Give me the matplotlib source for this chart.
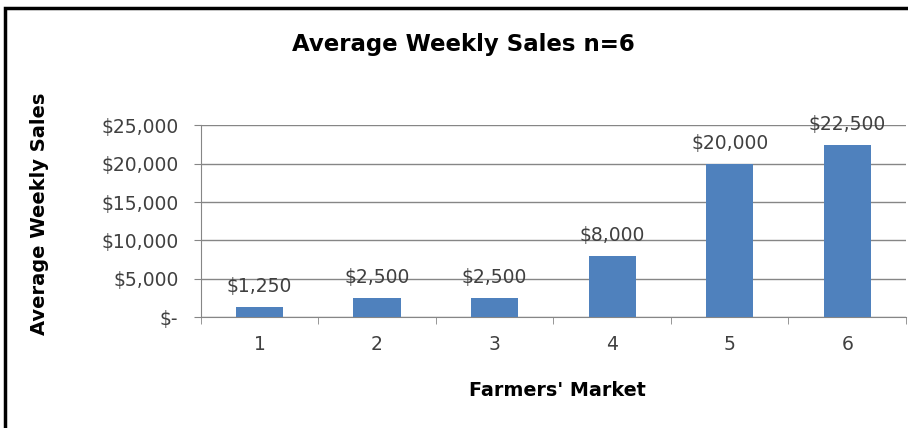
import matplotlib.pyplot as plt
from matplotlib.patches import Rectangle
import numpy as np

# data
markets = ['1', '2', '3', '4', '5', '6']
sales = [1250, 2500, 2500, 8000, 20000, 22500]
sales_labels = ['$1,250', '$2,500', '$2,500', '$8,000', '$20,000', '$22,500']
y_ticks = [0, 5000, 10000, 15000, 20000, 25000]
y_tick_labels = ['$-', '$5,000', '$10,000', '$15,000', '$20,000', '$25,000']

fig = plt.figure(figsize=(9.08, 4.28), dpi=100)
ax = fig.add_axes([0.221, 0.2593, 0.7768, 0.4475])

x = np.arange(len(markets))
bars = ax.bar(x, sales, width=0.4, color='#4F81BD', zorder=3)

for b, lab in zip(bars, sales_labels):
    ax.annotate(lab, (b.get_x() + b.get_width() / 2, b.get_height()),
                xytext=(0, 8), textcoords='offset points',
                ha='center', va='bottom', fontsize=13.5, color='#404040')

ax.set_xlim(-0.5, len(markets) - 0.5)
ax.set_ylim(0, 25000)
ax.set_yticks(y_ticks)
ax.set_yticklabels(y_tick_labels, fontsize=13.5, color='#404040')
ax.set_xticks(x)
ax.set_xticklabels(markets, fontsize=13.5, color='#404040')
ax.set_xticks(np.arange(len(markets) + 1) - 0.5, minor=True)
ax.tick_params(axis='x', which='major', length=0, pad=13)
ax.tick_params(axis='x', which='minor', length=5, color='#868686')
ax.tick_params(axis='y', length=5, color='#868686', pad=11)
ax.grid(axis='y', color='#868686', linewidth=1, zorder=0)

for s in ['top', 'right']:
    ax.spines[s].set_visible(False)
for s in ['left', 'bottom']:
    ax.spines[s].set_color('#868686')

fig.text(0.51, 0.895, 'Average Weekly Sales n=6', ha='center', va='center',
         fontsize=16.5, fontweight='bold')
fig.text(0.044, 0.50, 'Average Weekly Sales', rotation=90, ha='center', va='center',
         fontsize=14, fontweight='bold')
fig.text(0.614, 0.088, "Farmers' Market", ha='center', va='center',
         fontsize=13.8, fontweight='bold')

# chart border
fig.patches.append(Rectangle((5 / 908, -0.1), 1.2, (428 - 8) / 428 + 0.1,
                             transform=fig.transFigure, fill=False,
                             edgecolor='black', linewidth=2.5))

plt.savefig('out.png', dpi=100)
